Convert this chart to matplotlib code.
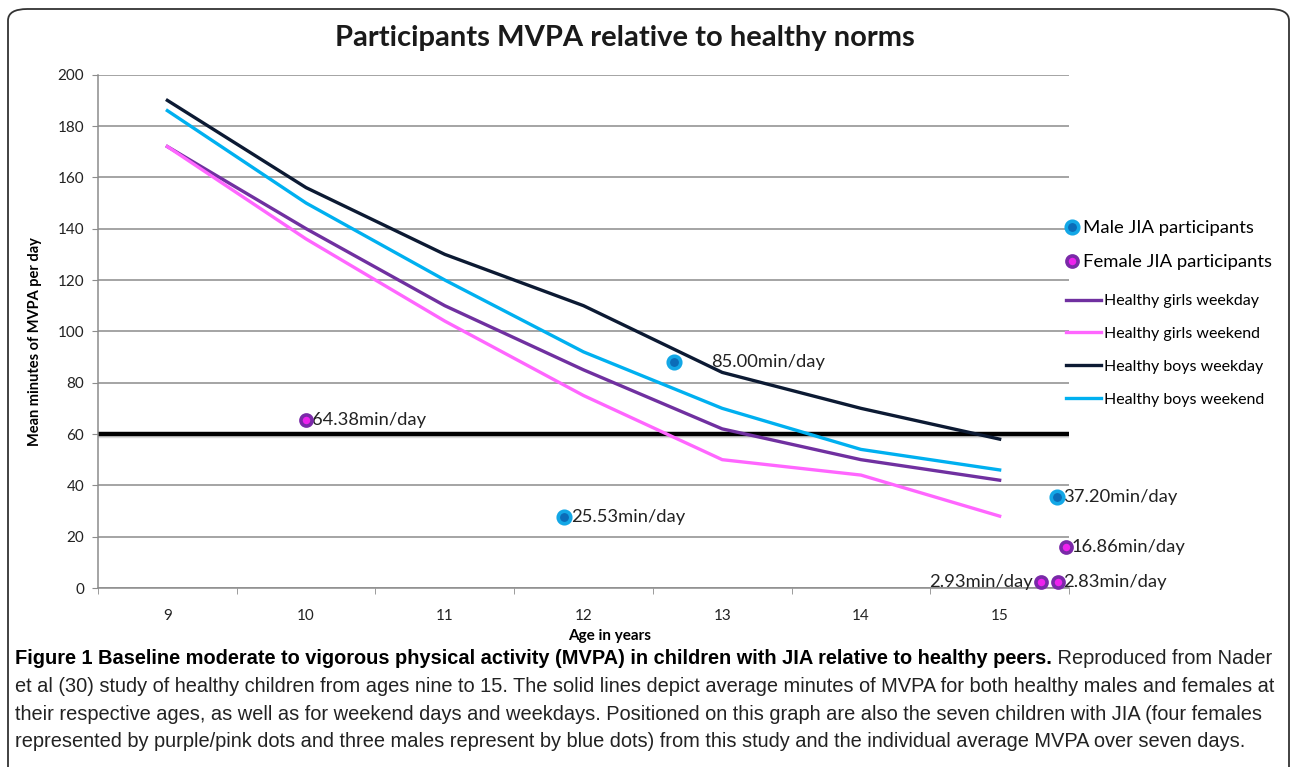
import matplotlib
matplotlib.use("Agg")
import matplotlib.pyplot as plt
import matplotlib.patheffects as pe
from matplotlib.patches import FancyBboxPatch

plt.rcParams['font.family'] = ['Lato', 'DejaVu Sans']

# ---- data ----
ages = [9, 10, 11, 12, 13, 14, 15]
girls_weekday = [172, 140, 110, 85, 62, 50, 42]
girls_weekend = [172, 136, 104, 75, 50, 44, 28]
boys_weekday = [190, 156, 130, 110, 84, 70, 58]
boys_weekend = [186, 150, 120, 92, 70, 54, 46]

male_age = [11.86, 12.65, 15.41]
male_mvpa = [27.7, 88.0, 35.6]
male_labels = ['25.53min/day', '85.00min/day', '37.20min/day']

female_age = [10.0, 15.48, 15.30, 15.42]
female_mvpa = [65.4, 16.1, 2.5, 2.5]
female_labels = ['64.38min/day', '16.86min/day', '2.93min/day', '2.83min/day']

guideline = 60
yticks = [0, 20, 40, 60, 80, 100, 120, 140, 160, 180, 200]

W, H = 1292, 767
fig = plt.figure(figsize=(W / 100, H / 100), dpi=100)
ax = fig.add_axes([98 / W, 1 - 588 / H, 971 / W, 513.3 / H])

# outer rounded frame
frame = FancyBboxPatch((8 / W, -0.1), 1281 / W, 1 - 9 / H + 0.1,
                       boxstyle="round,pad=0,rounding_size=0.015",
                       transform=fig.transFigure, facecolor='none',
                       edgecolor='#333333', linewidth=1.3)
fig.patches.append(frame)

# healthy norm lines
lw = 2.4
l_gwd, = ax.plot(ages, girls_weekday, color='#7030a0', lw=lw, label='Healthy girls weekday', zorder=3)
l_gwe, = ax.plot(ages, girls_weekend, color='#ff66ff', lw=lw, label='Healthy girls weekend', zorder=3)
l_bwd, = ax.plot(ages, boys_weekday, color='#0c1a33', lw=lw, label='Healthy boys weekday', zorder=3)
l_bwe, = ax.plot(ages, boys_weekend, color='#00b0f0', lw=lw, label='Healthy boys weekend', zorder=3)

# 60 min guideline
ax.axhline(guideline, color='black', lw=3.2, zorder=2,
           path_effects=[pe.SimpleLineShadow(offset=(0, -1.5), shadow_color='#999999', alpha=0.35),
                         pe.Normal()])

# participants
m_pts, = ax.plot(male_age, male_mvpa, ls='none', marker='o', ms=9, mfc='#0b6cb8',
                 mec='#13a7e6', mew=2.6, label='Male JIA participants', zorder=5, clip_on=False)
f_pts, = ax.plot(female_age, female_mvpa, ls='none', marker='o', ms=8, mfc='#ee22ee',
                 mec='#7a2aa8', mew=2.6, label='Female JIA participants', zorder=5, clip_on=False)

lab_fs = 13.2
for x, y, s in zip(male_age, male_mvpa, male_labels):
    dx = 27 if s.startswith('85') else 5
    ax.annotate(s, (x, y), xytext=(dx, 0), textcoords='offset points',
                ha='left', va='center', fontsize=lab_fs, color='#222222', annotation_clip=False)
for x, y, s in zip(female_age, female_mvpa, female_labels):
    if s.startswith('2.93'):
        ax.annotate(s, (x, y), xytext=(-6, 0), textcoords='offset points',
                    ha='right', va='center', fontsize=lab_fs, color='#222222', annotation_clip=False)
    else:
        ax.annotate(s, (x, y), xytext=(4, 0), textcoords='offset points',
                    ha='left', va='center', fontsize=lab_fs, color='#222222', annotation_clip=False)

# axes styling
ax.set_xlim(8.5, 15.5)
ax.set_ylim(0, 200)
ax.set_yticks(yticks)
ax.set_xticks(ages)
ax.set_xticks([a - 0.5 for a in ages] + [15.5], minor=True)
ax.grid(axis='y', color='#8c8c8c', lw=1.1, zorder=0)
ax.set_axisbelow(True)
for s in ['top', 'right']:
    ax.spines[s].set_visible(False)
ax.spines['left'].set_color('#8c8c8c')
ax.spines['bottom'].set_color('#8c8c8c')
ax.spines['left'].set_linewidth(1.1)
ax.spines['bottom'].set_linewidth(1.1)
ax.tick_params(axis='y', length=4, color='#8c8c8c', labelsize=11, pad=6, labelcolor='#222222')
ax.tick_params(axis='x', which='major', length=0, labelsize=11, pad=15, labelcolor='#222222')
ax.tick_params(axis='x', which='minor', length=4, color='#8c8c8c')

ax.set_ylabel('Mean minutes of MVPA per day', fontsize=10.5, fontweight='bold')
ax.yaxis.set_label_coords(-0.058, 0.48)
ax.set_xlabel('Age in years', fontsize=11, fontweight='bold')
ax.xaxis.set_label_coords(0.527, -0.08)

fig.text(625 / W, 1 - 38 / H, 'Participants MVPA relative to healthy norms',
         ha='center', va='center', fontsize=21, fontweight='bold', color='#1a1a1a')

# legends
leg1 = ax.legend(handles=[m_pts, f_pts], loc='upper left', bbox_to_anchor=(1066 / W, 1 - 220 / H),
                 bbox_transform=fig.transFigure, frameon=False, fontsize=13.3, borderpad=0,
                 handlelength=0.6, handletextpad=0.3, labelspacing=1.0, borderaxespad=0)
ax.add_artist(leg1)
ax.legend(handles=[l_gwd, l_gwe, l_bwd, l_bwe], loc='upper left',
          bbox_to_anchor=(1066 / W, 1 - 294 / H), bbox_transform=fig.transFigure,
          frameon=False, fontsize=11.5, borderpad=0, handlelength=2.2, handletextpad=0.15,
          labelspacing=1.17, borderaxespad=0)

# caption
cap_fs = 14.4
cap_fam = ['Liberation Sans', 'DejaVu Sans']
t1 = fig.text(15 / W, 1 - 664 / H,
              'Figure 1 Baseline moderate to vigorous physical activity (MVPA) in children with JIA relative to healthy peers.',
              ha='left', va='baseline', fontsize=cap_fs, fontweight='bold', family=cap_fam)
t2 = fig.text(0, 1 - 664 / H, ' Reproduced from Nader', ha='left', va='baseline',
              fontsize=cap_fs, family=cap_fam, color='#222222')
cap_lines = [
    'et al (30) study of healthy children from ages nine to 15. The solid lines depict average minutes of MVPA for both healthy males and females at',
    'their respective ages, as well as for weekend days and weekdays. Positioned on this graph are also the seven children with JIA (four females',
    'represented by purple/pink dots and three males represent by blue dots) from this study and the individual average MVPA over seven days.',
]
for i, line in enumerate(cap_lines):
    fig.text(15 / W, 1 - (692 + 27.7 * i) / H, line, ha='left', va='baseline',
             fontsize=cap_fs, family=cap_fam, color='#222222')

# place the non-bold part right after the bold lead-in
fig.canvas.draw()
bb = t1.get_window_extent()
t2.set_position((bb.x1 / W, 1 - 664 / H))

fig.savefig('out.png', dpi=100, facecolor='white')
